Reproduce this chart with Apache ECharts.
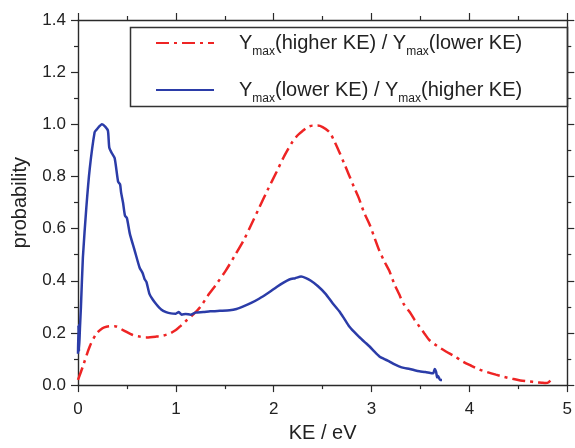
<!DOCTYPE html>
<html>
<head>
<meta charset="utf-8">
<script src="https://cdn.jsdelivr.net/npm/echarts@6/dist/echarts.min.js"></script>
<style>
  html, body { margin: 0; padding: 0; background: #fff; }
  #chart { width: 575px; height: 448px; }
</style>
</head>
<body>
<div id="chart"></div>
<script>
// Ymax(higher KE) / Ymax(lower KE)
const redKE = [0.00, 0.05, 0.12, 0.19, 0.25, 0.29, 0.375, 0.46, 0.56, 0.63, 0.70, 0.80, 0.87, 0.94, 1.00, 1.04, 1.10, 1.17, 1.25, 1.34, 1.42, 1.51, 1.60, 1.69, 1.77, 1.85, 1.94, 2.03, 2.11, 2.19, 2.25, 2.30, 2.35, 2.40, 2.45, 2.50, 2.57, 2.62, 2.67, 2.72, 2.77, 2.82, 2.87, 2.92, 2.98, 3.03, 3.08, 3.13, 3.18, 3.23, 3.28, 3.33, 3.39, 3.44, 3.49, 3.54, 3.59, 3.67, 3.76, 3.85, 3.93, 4.02, 4.10, 4.18, 4.27, 4.35, 4.44, 4.52, 4.61, 4.68, 4.74, 4.78, 4.81, 4.83, 4.84];
const redProb = [0.020, 0.072, 0.148, 0.198, 0.218, 0.224, 0.226, 0.211, 0.192, 0.186, 0.183, 0.186, 0.190, 0.198, 0.211, 0.224, 0.245, 0.268, 0.300, 0.350, 0.390, 0.439, 0.495, 0.553, 0.615, 0.679, 0.750, 0.818, 0.880, 0.932, 0.960, 0.976, 0.990, 0.995, 0.995, 0.989, 0.970, 0.935, 0.894, 0.850, 0.805, 0.760, 0.717, 0.665, 0.616, 0.565, 0.515, 0.475, 0.439, 0.390, 0.350, 0.310, 0.280, 0.250, 0.224, 0.198, 0.173, 0.150, 0.129, 0.110, 0.091, 0.074, 0.060, 0.050, 0.040, 0.032, 0.024, 0.018, 0.014, 0.011, 0.009, 0.008, 0.011, 0.020, 0.028];

// Ymax(lower KE) / Ymax(higher KE)
const blueKE = [0.000, 0.005, 0.010, 0.020, 0.030, 0.050, 0.085, 0.12, 0.17, 0.19, 0.245, 0.28, 0.306, 0.32, 0.345, 0.375, 0.41, 0.43, 0.44, 0.46, 0.48, 0.50, 0.53, 0.58, 0.63, 0.66, 0.68, 0.70, 0.73, 0.76, 0.80, 0.85, 0.90, 0.95, 1.00, 1.03, 1.06, 1.10, 1.15, 1.20, 1.28, 1.35, 1.45, 1.55, 1.62, 1.69, 1.77, 1.85, 1.95, 2.03, 2.10, 2.16, 2.22, 2.28, 2.33, 2.38, 2.45, 2.53, 2.60, 2.67, 2.72, 2.77, 2.82, 2.87, 2.93, 2.98, 3.03, 3.08, 3.13, 3.18, 3.23, 3.28, 3.33, 3.39, 3.45, 3.49, 3.55, 3.60, 3.63, 3.645, 3.66, 3.67, 3.68, 3.70, 3.72];
const blueProb = [0.120, 0.230, 0.130, 0.220, 0.300, 0.490, 0.680, 0.830, 0.970, 0.980, 1.000, 0.990, 0.975, 0.910, 0.890, 0.870, 0.780, 0.770, 0.740, 0.700, 0.650, 0.640, 0.580, 0.515, 0.450, 0.430, 0.407, 0.395, 0.350, 0.330, 0.310, 0.290, 0.280, 0.275, 0.274, 0.280, 0.270, 0.273, 0.270, 0.278, 0.280, 0.283, 0.285, 0.287, 0.292, 0.302, 0.315, 0.331, 0.355, 0.376, 0.393, 0.405, 0.410, 0.416, 0.410, 0.400, 0.380, 0.350, 0.315, 0.283, 0.255, 0.226, 0.205, 0.186, 0.165, 0.148, 0.128, 0.110, 0.100, 0.091, 0.080, 0.072, 0.066, 0.062, 0.056, 0.053, 0.050, 0.046, 0.045, 0.062, 0.050, 0.030, 0.035, 0.020, 0.020];

const xTicks = { min: 0, max: 5, interval: 1 };
const yTicks = { min: 0, max: 1.4, interval: 0.2 };

const seriesNames = ['higherOverLower', 'lowerOverHigher'];
const legendLabels = {
  higherOverLower: '{m|Y}{s|max}{m|(higher KE) / Y}{s|max}{m|(lower KE)}',
  lowerOverHigher: '{m|Y}{s|max}{m|(lower KE) / Y}{s|max}{m|(higher KE)}'
};

const pairs = (xs, ys) => xs.map((x, i) => [x, ys[i]]);

const FONT = '"Liberation Sans", Arial, sans-serif';
const AXIS_COLOR = '#2a2a2a';

const axisCommon = {
  axisLine: { show: true, onZero: false, lineStyle: { color: AXIS_COLOR, width: 1.4 } },
  axisTick: { show: true, inside: false, length: 7, lineStyle: { color: AXIS_COLOR, width: 1.2 } },
  minorTick: { show: true, splitNumber: 2, length: 4, lineStyle: { color: AXIS_COLOR, width: 1.2 } },
  splitLine: { show: false },
  minorSplitLine: { show: false }
};

const chart = echarts.init(document.getElementById('chart'), null, { renderer: 'canvas' });

chart.setOption({
  animation: false,
  backgroundColor: '#ffffff',
  grid: { left: 78, right: 6, top: 20, bottom: 59, containLabel: false },
  xAxis: [
    Object.assign({}, axisCommon, {
      type: 'value', position: 'bottom',
      min: xTicks.min, max: xTicks.max, interval: xTicks.interval,
      name: 'KE / eV', nameLocation: 'middle', nameGap: 36,
      nameTextStyle: { fontFamily: FONT, fontSize: 20, color: '#222' },
      axisLabel: { margin: 16, fontFamily: FONT, fontSize: 17, color: '#222' }
    }),
    Object.assign({}, axisCommon, {
      type: 'value', position: 'top',
      min: xTicks.min, max: xTicks.max, interval: xTicks.interval,
      axisLabel: { show: false }
    })
  ],
  yAxis: [
    Object.assign({}, axisCommon, {
      type: 'value', position: 'left',
      min: yTicks.min, max: yTicks.max, interval: yTicks.interval,
      name: 'probability', nameLocation: 'middle', nameGap: 48, nameRotate: 90,
      nameTextStyle: { fontFamily: FONT, fontSize: 20, color: '#222' },
      axisLabel: { margin: 12, fontFamily: FONT, fontSize: 17, color: '#222',
                   formatter: v => v.toFixed(1) }
    }),
    Object.assign({}, axisCommon, {
      type: 'value', position: 'right',
      min: yTicks.min, max: yTicks.max, interval: yTicks.interval,
      axisLabel: { show: false }
    })
  ],
  legend: {
    orient: 'vertical',
    left: 155, top: 28,
    padding: 0,
    itemGap: 17,
    itemWidth: 58, itemHeight: 14,
    data: seriesNames,
    // line-only keys: hide the marker that line series put in the middle
    itemStyle: { color: 'transparent', borderColor: 'transparent', borderWidth: 0, opacity: 0 },
    formatter: name => '{g|}' + legendLabels[name],
    textStyle: {
      fontFamily: FONT, color: '#222',
      rich: {
        g: { width: 20, lineHeight: 30 },
        m: { fontFamily: FONT, fontSize: 20, lineHeight: 30, verticalAlign: 'middle', color: '#222' },
        s: { fontFamily: FONT, fontSize: 12, lineHeight: 12, padding: [18, 0, 0, 0], verticalAlign: 'top', color: '#222' }
      }
    }
  },
  graphic: [{
    type: 'rect', left: 128, top: 25, z: 10,
    shape: { width: 437, height: 79 },
    style: { fill: 'none', stroke: '#333', lineWidth: 1.5 }
  }],
  series: [
    {
      name: seriesNames[0], type: 'line', xAxisIndex: 0, yAxisIndex: 0,
      data: pairs(redKE, redProb),
      symbol: 'none', smooth: 0.3,
      lineStyle: { color: '#ee2424', width: 2.5, type: [13, 5, 3, 5] },
      itemStyle: { color: '#ee2424' }
    },
    {
      name: seriesNames[1], type: 'line', xAxisIndex: 0, yAxisIndex: 0,
      data: pairs(blueKE, blueProb),
      symbol: 'none', smooth: 0.2,
      lineStyle: { color: '#2b3ca8', width: 2.5 },
      itemStyle: { color: '#2b3ca8' }
    }
  ]
});
</script>
</body>
</html>
